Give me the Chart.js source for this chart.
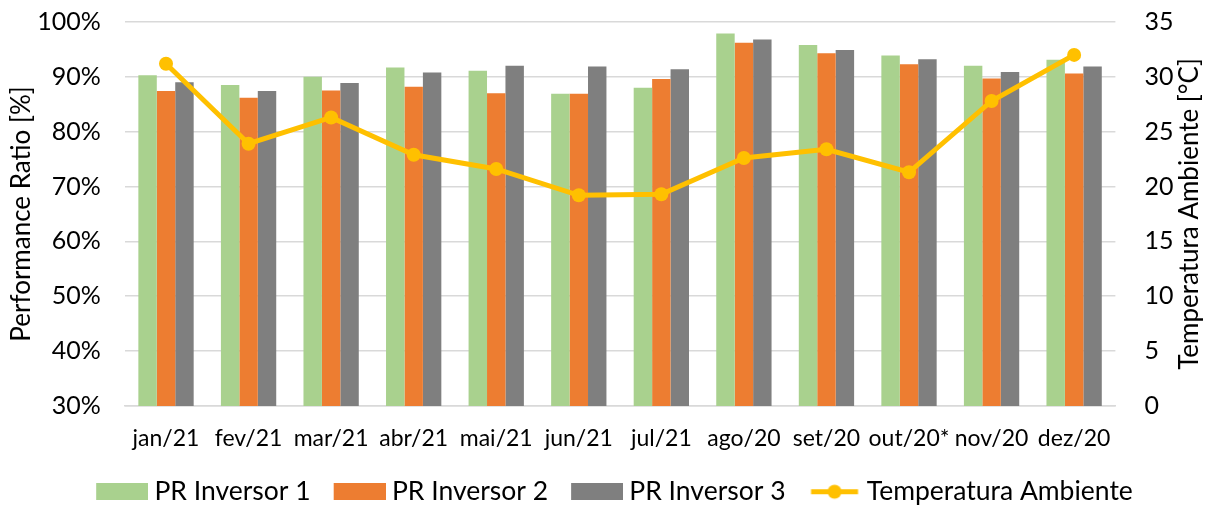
<!DOCTYPE html>
<html>
<head>
<meta charset="utf-8">
<script src="https://cdn.jsdelivr.net/npm/chart.js@4/dist/chart.umd.min.js"></script>
<style>
html,body{margin:0;padding:0;background:#fff;}
#wrap{width:1213px;height:509px;position:relative;}
</style>
</head>
<body>
<div id="wrap"><canvas id="c" width="1213" height="509"></canvas></div>
<script>
const categories = ["jan/21","fev/21","mar/21","abr/21","mai/21","jun/21","jul/21","ago/20","set/20","out/20*","nov/20","dez/20"];
const prInversor1 = [90.3, 88.5, 90.0, 91.7, 91.1, 86.9, 88.0, 97.9, 95.8, 93.9, 92.0, 93.1];
const prInversor2 = [87.4, 86.2, 87.5, 88.2, 87.0, 86.9, 89.6, 96.2, 94.3, 92.3, 89.7, 90.6];
const prInversor3 = [89.0, 87.4, 88.9, 90.8, 92.0, 91.9, 91.4, 96.8, 94.9, 93.2, 90.9, 91.9];
const temperatura = [31.2, 23.9, 26.3, 22.9, 21.6, 19.2, 19.3, 22.6, 23.4, 21.3, 27.8, 32.0];
const leftTicks = [30, 40, 50, 60, 70, 80, 90, 100];
const rightTicks = [0, 5, 10, 15, 20, 25, 30, 35];

const FONT = "Lato, 'Open Sans', sans-serif";
const TXT = "#000000";
const RIGHT_TITLE = 'Temperatura Ambiente [°C]';

// legend symbol images: 75x17 canvas, symbol occupies x 23..75
function boxImg(color){
  const c = document.createElement('canvas'); c.width = 75; c.height = 17;
  const x = c.getContext('2d'); x.fillStyle = color; x.fillRect(23,0,52,17); return c;
}
function lineImg(color){
  const c = document.createElement('canvas'); c.width = 75; c.height = 17;
  const x = c.getContext('2d'); x.strokeStyle = color; x.lineWidth = 5;
  x.beginPath(); x.moveTo(25.5,8.5); x.lineTo(72.5,8.5); x.stroke();
  x.fillStyle = color; x.beginPath(); x.arc(49,8.5,7,0,Math.PI*2); x.fill(); return c;
}

const colors = ["#A9D18E","#ED7D31","#7F7F7F","#FFC000"];
const legendImgs = [boxImg(colors[0]), boxImg(colors[1]), boxImg(colors[2]), lineImg(colors[3])];

// Right axis title reads bottom-to-top (like the left one)
const rightTitlePlugin = {
  id:'rightTitle',
  afterDraw(chart){
    const ctx = chart.ctx;
    const fs = 26;
    const x = chart.width - 6 - 17;
    const y = (chart.chartArea.top + chart.chartArea.bottom)/2;
    ctx.save();
    ctx.translate(x, y); ctx.rotate(-Math.PI/2);
    ctx.font = fs + "px " + FONT; ctx.fillStyle = TXT;
    ctx.textAlign = 'center'; ctx.textBaseline = 'middle';
    ctx.fillText(RIGHT_TITLE, 0, 0);
    ctx.restore();
  }
};

new Chart(document.getElementById('c'), {
  data: {
    labels: categories,
    datasets: [
      {type:'bar', label:'PR Inversor 1', data: prInversor1, backgroundColor: colors[0], yAxisID:'y', order:1, categoryPercentage:0.67, barPercentage:1.0},
      {type:'bar', label:'PR Inversor 2', data: prInversor2, backgroundColor: colors[1], yAxisID:'y', order:1, categoryPercentage:0.67, barPercentage:1.0},
      {type:'bar', label:'PR Inversor 3', data: prInversor3, backgroundColor: colors[2], yAxisID:'y', order:1, categoryPercentage:0.67, barPercentage:1.0},
      {type:'line', label:'Temperatura Ambiente', data: temperatura, borderColor: colors[3], backgroundColor: colors[3], borderWidth:5, pointRadius:7, pointHoverRadius:7, pointBackgroundColor: colors[3], pointBorderWidth:0, yAxisID:'y1', order:0, tension:0}
    ]
  },
  plugins:[rightTitlePlugin],
  options: {
    responsive:false, animation:false,
    layout:{padding:{left:6, right:6, top:22, bottom:-6}},
    plugins:{
      tooltip:{enabled:false},
      legend:{
        position:'bottom',
        labels:{
          usePointStyle:true, pointStyleWidth:61, boxHeight:17,
          color:TXT, font:{family:FONT, size:26.5}, padding:7,
          generateLabels(chart){
            return chart.data.datasets.map((d,i)=>({text:d.label, pointStyle:legendImgs[i], fillStyle:colors[i], strokeStyle:colors[i], lineWidth:0, datasetIndex:i, hidden:false, fontColor:TXT}));
          }
        }
      }
    },
    scales:{
      x:{
        grid:{display:false, drawTicks:false},
        border:{display:true, color:'#D9D9D9', width:1.5},
        ticks:{color:TXT, font:{family:FONT, size:23}, padding:19, maxRotation:0, autoSkip:false}
      },
      y:{
        position:'left', min:30, max:100,
        afterBuildTicks(ax){ ax.ticks = leftTicks.map(v=>({value:v})); },
        grid:{color:'#D9D9D9', lineWidth:1.5, drawTicks:true, tickLength:24, tickColor:'rgba(0,0,0,0)'},
        border:{display:false},
        ticks:{color:TXT, font:{family:FONT, size:25}, padding:0, callback:v=>v+'%'},
        title:{display:true, text:'Performance Ratio [%]', color:TXT, font:{family:FONT, size:26}, padding:{top:0,bottom:0}}
      },
      y1:{
        position:'right', min:0, max:35,
        afterBuildTicks(ax){ ax.ticks = rightTicks.map(v=>({value:v})); },
        grid:{display:true, drawOnChartArea:false, drawTicks:true, tickLength:29, tickColor:'rgba(0,0,0,0)', color:'rgba(0,0,0,0)'},
        border:{display:false},
        ticks:{color:TXT, font:{family:FONT, size:25}, padding:0},
        title:{display:true, text:RIGHT_TITLE, color:'rgba(0,0,0,0)', font:{family:FONT, size:26}, padding:{top:1.4,bottom:1}}
      }
    }
  }
});
</script>
</body>
</html>
